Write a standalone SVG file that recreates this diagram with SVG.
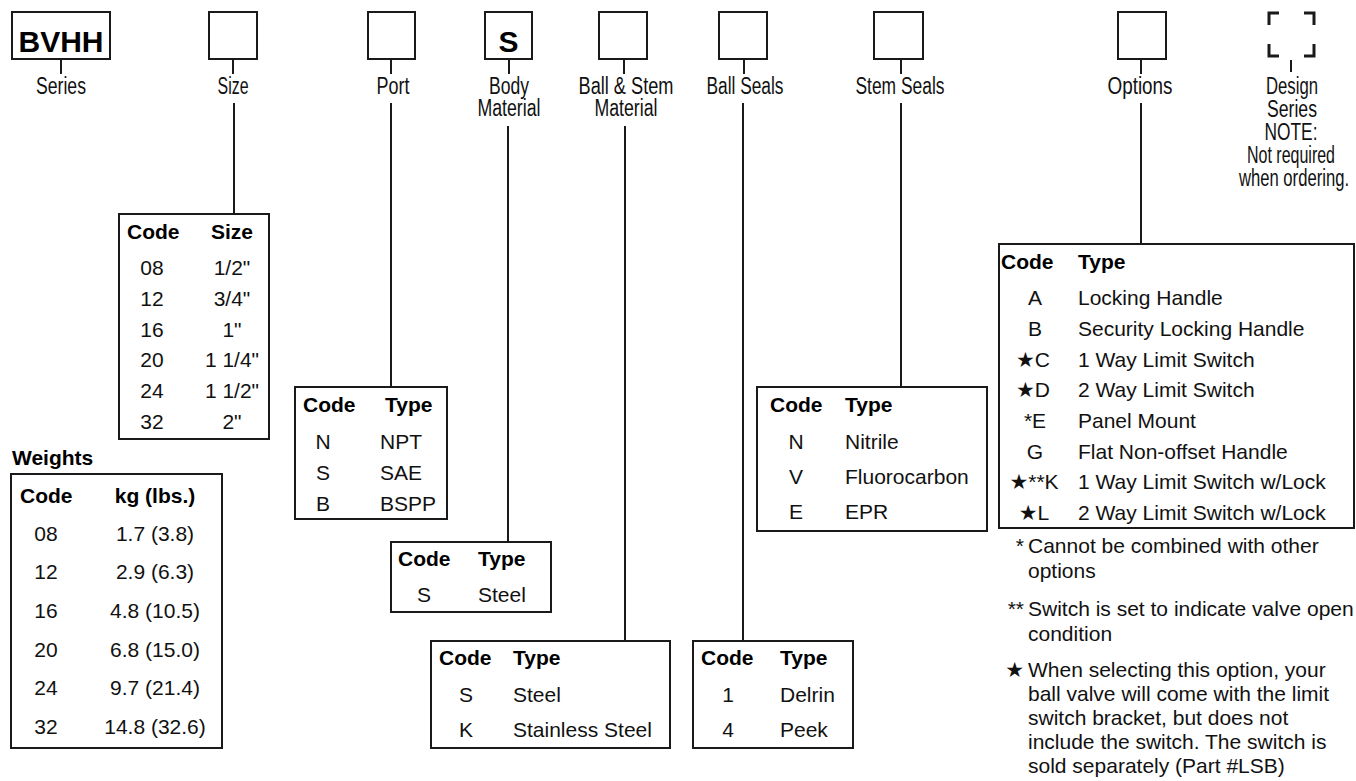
<svg xmlns="http://www.w3.org/2000/svg" width="1356" height="781" viewBox="0 0 1356 781">
<style>
.bg{fill:#fff}
.box{fill:#fff;stroke:#1a1a1a;stroke-width:2}
.tbl{fill:#fff;stroke:#1a1a1a;stroke-width:2}
.ln{stroke:#1a1a1a;stroke-width:2;fill:none}
.big{font-family:"Liberation Sans",Arial,sans-serif;font-weight:bold;font-size:30px;fill:#000;text-anchor:middle}
.lbl{font-family:"Liberation Sans",Arial,sans-serif;font-size:23px;fill:#111;text-anchor:middle}
.t{font-family:"Liberation Sans",Arial,"DejaVu Sans",sans-serif;font-size:21px;fill:#111}
.h{font-family:"Liberation Sans",Arial,sans-serif;font-size:21px;font-weight:bold;fill:#000}
.c{text-anchor:middle}
.e{text-anchor:end}
</style>
<rect class="bg" x="0" y="0" width="1356" height="781"/>

<g id="connectors">
  <path class="ln" d="M61 59V74M233 59V74M391 59V74M509 59V74M624 59V74M744 59V74M901 59V74M1141 59V74M1291 60V72"/>
  <path class="ln" d="M234 103V214M391 103V387M508 126V542M625 126V641M743 103V641M901 103V387M1141 103V244"/>
</g>

<g id="series">
  <rect class="box" x="12" y="12" width="98" height="47"/>
  <text class="big" x="61" y="52">BVHH</text>
  <text class="lbl" x="61" y="94" textLength="50" lengthAdjust="spacingAndGlyphs">Series</text>
</g>
<g id="size">
  <rect class="box" x="209" y="12" width="48" height="47"/>
  <text class="lbl" x="233" y="94" textLength="31" lengthAdjust="spacingAndGlyphs">Size</text>
</g>
<g id="port">
  <rect class="box" x="368" y="12" width="47" height="47"/>
  <text class="lbl" x="393" y="94" textLength="33" lengthAdjust="spacingAndGlyphs">Port</text>
</g>
<g id="body">
  <rect class="box" x="485" y="12" width="47" height="47"/>
  <text class="big" x="508.5" y="52">S</text>
  <text class="lbl" x="509" y="94" textLength="40" lengthAdjust="spacingAndGlyphs">Body</text>
  <text class="lbl" x="509" y="116" textLength="63" lengthAdjust="spacingAndGlyphs">Material</text>
</g>
<g id="ballstem">
  <rect class="box" x="599" y="12" width="48" height="47"/>
  <text class="lbl" x="626" y="94" textLength="95" lengthAdjust="spacingAndGlyphs">Ball &amp; Stem</text>
  <text class="lbl" x="626" y="116" textLength="63" lengthAdjust="spacingAndGlyphs">Material</text>
</g>
<g id="ballseals">
  <rect class="box" x="719" y="12" width="48" height="47"/>
  <text class="lbl" x="745" y="94" textLength="77" lengthAdjust="spacingAndGlyphs">Ball Seals</text>
</g>
<g id="stemseals">
  <rect class="box" x="874" y="12" width="49" height="47"/>
  <text class="lbl" x="900" y="94" textLength="89" lengthAdjust="spacingAndGlyphs">Stem Seals</text>
</g>
<g id="options">
  <rect class="box" x="1118" y="12" width="48" height="47"/>
  <text class="lbl" x="1140" y="94" textLength="65" lengthAdjust="spacingAndGlyphs">Options</text>
</g>
<g id="design">
  <path d="M1269 25V13H1279M1304 13H1314V25M1269 44V56H1279M1304 56H1314V44" fill="none" stroke="#1a1a1a" stroke-width="3"/>
  <text class="lbl" x="1292" y="94" textLength="52" lengthAdjust="spacingAndGlyphs">Design</text>
  <text class="lbl" x="1292" y="117" textLength="50" lengthAdjust="spacingAndGlyphs">Series</text>
  <text class="lbl" x="1291" y="140" textLength="53" lengthAdjust="spacingAndGlyphs">NOTE:</text>
  <text class="lbl" x="1291" y="163" textLength="88" lengthAdjust="spacingAndGlyphs">Not required</text>
  <text class="lbl" x="1294" y="186" textLength="110" lengthAdjust="spacingAndGlyphs">when ordering.</text>
</g>

<g id="size-table">
  <rect class="tbl" x="119" y="214" width="150" height="225"/>
  <text class="h" x="127" y="239">Code</text>
  <text class="h c" x="232" y="239">Size</text>
  <g class="t c">
    <text x="152" y="275">08</text><text x="232" y="275">1/2"</text>
    <text x="152" y="306">12</text><text x="232" y="306">3/4"</text>
    <text x="152" y="337">16</text><text x="232" y="337">1"</text>
    <text x="152" y="367">20</text><text x="232" y="367">1 1/4"</text>
    <text x="152" y="398">24</text><text x="232" y="398">1 1/2"</text>
    <text x="152" y="429">32</text><text x="232" y="429">2"</text>
  </g>
</g>

<g id="weights-table">
  <text class="h" x="12" y="465">Weights</text>
  <rect class="tbl" x="11" y="474" width="211" height="274"/>
  <text class="h" x="20" y="503">Code</text>
  <text class="h c" x="155" y="503">kg (lbs.)</text>
  <g class="t c">
    <text x="46" y="541">08</text><text x="155" y="541">1.7 (3.8)</text>
    <text x="46" y="579">12</text><text x="155" y="579">2.9 (6.3)</text>
    <text x="46" y="618">16</text><text x="155" y="618">4.8 (10.5)</text>
    <text x="46" y="657">20</text><text x="155" y="657">6.8 (15.0)</text>
    <text x="46" y="695">24</text><text x="155" y="695">9.7 (21.4)</text>
    <text x="46" y="734">32</text><text x="155" y="734">14.8 (32.6)</text>
  </g>
</g>

<g id="port-table">
  <rect class="tbl" x="295" y="387" width="152" height="132"/>
  <text class="h" x="303" y="412">Code</text>
  <text class="h" x="385" y="412">Type</text>
  <text class="t c" x="323" y="449">N</text><text class="t" x="380" y="449">NPT</text>
  <text class="t c" x="323" y="480">S</text><text class="t" x="380" y="480">SAE</text>
  <text class="t c" x="323" y="511">B</text><text class="t" x="380" y="511">BSPP</text>
</g>

<g id="body-table">
  <rect class="tbl" x="391" y="542" width="160" height="70"/>
  <text class="h" x="398" y="566">Code</text>
  <text class="h" x="478" y="566">Type</text>
  <text class="t c" x="424" y="602">S</text><text class="t" x="478" y="602">Steel</text>
</g>

<g id="ballstem-table">
  <rect class="tbl" x="431" y="641" width="239" height="107"/>
  <text class="h" x="439" y="665">Code</text>
  <text class="h" x="513" y="665">Type</text>
  <text class="t c" x="466" y="702">S</text><text class="t" x="513" y="702">Steel</text>
  <text class="t c" x="466" y="737">K</text><text class="t" x="513" y="737">Stainless Steel</text>
</g>

<g id="ballseals-table">
  <rect class="tbl" x="693" y="641" width="160" height="107"/>
  <text class="h" x="701" y="665">Code</text>
  <text class="h" x="780" y="665">Type</text>
  <text class="t c" x="728" y="702">1</text><text class="t" x="780" y="702">Delrin</text>
  <text class="t c" x="728" y="737">4</text><text class="t" x="780" y="737">Peek</text>
</g>

<g id="stemseals-table">
  <rect class="tbl" x="757" y="387" width="230" height="144"/>
  <text class="h" x="770" y="412">Code</text>
  <text class="h" x="845" y="412">Type</text>
  <text class="t c" x="796" y="449">N</text><text class="t" x="845" y="449">Nitrile</text>
  <text class="t c" x="796" y="484">V</text><text class="t" x="845" y="484">Fluorocarbon</text>
  <text class="t c" x="796" y="519">E</text><text class="t" x="845" y="519">EPR</text>
</g>

<g id="options-table">
  <rect class="tbl" x="999" y="244" width="355" height="284"/>
  <text class="h" x="1001" y="269">Code</text>
  <text class="h" x="1078" y="269">Type</text>
  <g class="t c">
    <text x="1035" y="305">A</text>
    <text x="1035" y="336">B</text>
    <text x="1033" y="367">★C</text>
    <text x="1033" y="397">★D</text>
    <text x="1035" y="428">*E</text>
    <text x="1035" y="459">G</text>
    <text x="1034" y="489">★**K</text>
    <text x="1034" y="520">★L</text>
  </g>
  <g class="t">
    <text x="1078" y="305">Locking Handle</text>
    <text x="1078" y="336">Security Locking Handle</text>
    <text x="1078" y="367">1 Way Limit Switch</text>
    <text x="1078" y="397">2 Way Limit Switch</text>
    <text x="1078" y="428">Panel Mount</text>
    <text x="1078" y="459">Flat Non-offset Handle</text>
    <text x="1078" y="489">1 Way Limit Switch w/Lock</text>
    <text x="1078" y="520">2 Way Limit Switch w/Lock</text>
  </g>
</g>

<g id="footnotes">
  <text class="t e" x="1024" y="553">*</text>
  <text class="t" x="1028" y="553">Cannot be combined with other</text>
  <text class="t" x="1028" y="578">options</text>
  <text class="t e" x="1024" y="616">**</text>
  <text class="t" x="1028" y="616">Switch is set to indicate valve open</text>
  <text class="t" x="1028" y="641">condition</text>
  <text class="t e" x="1024" y="677">★</text>
  <text class="t" x="1028" y="677">When selecting this option, your</text>
  <text class="t" x="1028" y="701">ball valve will come with the limit</text>
  <text class="t" x="1028" y="725">switch bracket, but does not</text>
  <text class="t" x="1028" y="749">include the switch. The switch is</text>
  <text class="t" x="1028" y="773">sold separately (Part #LSB)</text>
</g>
</svg>
